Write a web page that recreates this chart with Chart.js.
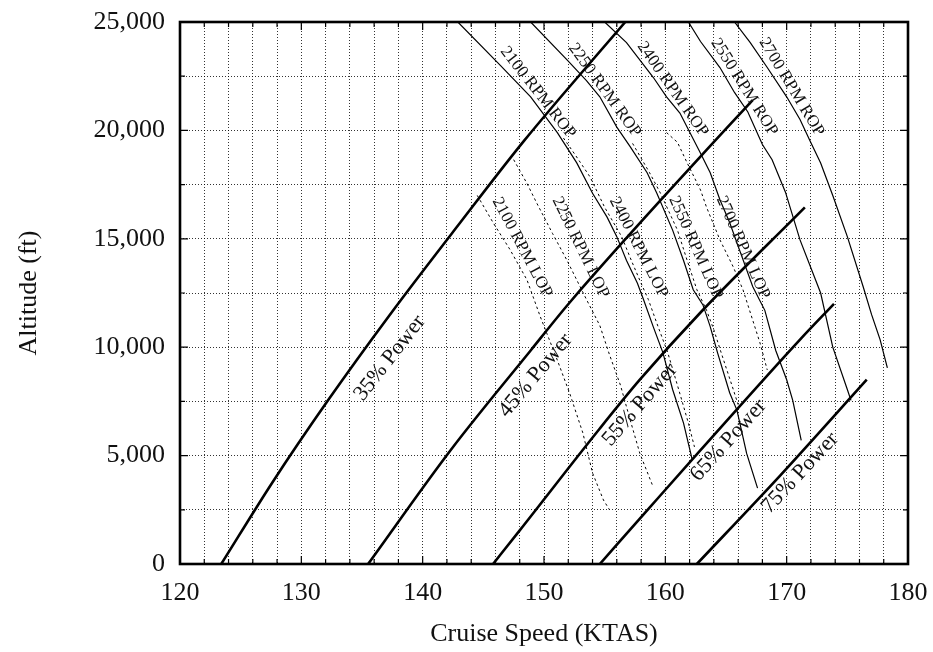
<!DOCTYPE html>
<html lang="en">
<head>
    <meta charset="UTF-8">
    <title>Cruise Speed vs Altitude</title>
    <script src="https://cdn.jsdelivr.net/npm/chart.js"></script>
    <style>
        html, body { margin: 0; padding: 0; background: #fff; }
        .chart-box { position: relative; width: 933px; height: 652px; }
    </style>
</head>
<body>
    <div class="chart-box">
        <canvas id="cruiseChart"></canvas>
    </div>

    <script>
        // percent power lines, [KTAS, altitude ft]
        const power35 = [[123.4, 0], [127.6, 3750], [132.2, 7550], [137.3, 11500], [143.1, 15750], [148.4, 19550], [156.7, 25000]];
        const power45 = [[135.5, 0], [142.3, 5250], [148.9, 9850], [152.1, 12050], [163.4, 19100], [167.2, 21400]];
        const power55 = [[145.8, 0], [148.0, 1550], [154.6, 6250], [157.9, 8500], [162.9, 11600], [171.5, 16450]];
        const power65 = [[154.6, 0], [158.7, 2600], [162.9, 5250], [171.1, 10350], [173.9, 12000]];
        const power75 = [[162.6, 0], [169.5, 4100], [176.6, 8500]];

        // rich of peak (solid)
        const rop2100 = [[142.9, 25000], [146.4, 23000], [148.9, 21550], [149.9, 20800], [151.1, 19900], [152.7, 18500],
            [154.0, 17100], [155.2, 16000], [156.0, 15100], [156.8, 14000], [157.7, 12950], [158.2, 12200],
            [159.0, 10950], [159.8, 9750], [160.6, 8050], [161.5, 6500], [162.2, 4850]];
        const rop2250 = [[148.9, 25000], [151.9, 23250], [153.5, 22300], [154.6, 21550], [156.0, 20150], [157.1, 19250],
            [158.5, 18050], [159.3, 17100], [160.6, 15400], [161.5, 14000], [162.3, 12650], [163.1, 11950],
            [163.7, 10950], [164.3, 9750], [165.3, 7900], [165.9, 7100], [166.7, 5100], [167.6, 3500]];
        const rop2400 = [[155.0, 25000], [156.8, 24050], [159.0, 22450], [160.1, 21550], [161.2, 20800], [162.9, 18950],
            [163.7, 18050], [164.5, 16800], [165.3, 15750], [166.2, 14350], [167.2, 12800], [168.2, 11700],
            [169.1, 9850], [170.0, 8500], [170.5, 7550], [171.2, 5700]];
        const rop2550 = [[161.9, 25000], [162.9, 24100], [164.5, 22900], [165.7, 21750], [166.8, 20850], [168.0, 19350],
            [168.8, 18650], [169.9, 17150], [171.1, 14950], [172.8, 12500], [173.8, 10000], [175.0, 8050], [175.3, 7550]];
        const rop2700 = [[165.7, 25000], [167.0, 24050], [168.4, 22900], [170.0, 21550], [171.1, 20500], [171.9, 19550],
            [172.8, 18500], [173.8, 17000], [175.0, 15100], [176.3, 12800], [177.0, 11500], [177.7, 10350], [178.3, 9050]];

        // lean of peak (dashed)
        const lop2100 = [[144.5, 17000], [145.8, 15750], [147.2, 14500], [148.6, 13100], [149.7, 11400], [151.1, 9400],
            [152.1, 7900], [153.2, 6050], [154.0, 4200], [154.9, 2950], [155.4, 2500]];
        const lop2250 = [[147.5, 18650], [148.6, 17550], [149.4, 16650], [150.7, 15250], [151.9, 14000], [152.7, 13100],
            [153.5, 12200], [154.6, 11000], [155.4, 9650], [156.3, 8250], [157.1, 6650], [157.9, 5100], [159.0, 3550]];
        const lop2400 = [[151.6, 19650], [152.6, 18850], [153.8, 17850], [155.0, 16450], [156.4, 15100], [157.2, 14000],
            [158.0, 12950], [158.6, 12200], [159.4, 10950], [160.2, 9750], [161.1, 8050], [161.9, 6500], [162.4, 5400]];
        const lop2550 = [[157.3, 19400], [158.7, 18050], [159.6, 17100], [161.0, 15400], [161.8, 14000], [162.6, 12650],
            [163.4, 11700], [164.0, 10800], [164.6, 9750], [165.6, 8050], [166.0, 7350]];
        const lop2700 = [[160.1, 19900], [161.0, 19450], [161.8, 18500], [162.9, 17250], [163.4, 16450], [164.5, 14950],
            [165.6, 13700], [166.4, 12650], [167.2, 11250], [167.8, 10200], [168.4, 8950]];

        // in-plot labels: text, speed, altitude, angle (deg)
        const powerLabels = [
            ['35% Power', 137.3, 9500, -52],
            ['45% Power', 149.3, 8700, -50],
            ['55% Power', 157.9, 7350, -49],
            ['65% Power', 165.2, 5700, -48],
            ['75% Power', 171.1, 4200, -47]
        ];
        const rpmLabels = [
            ['2100 RPM ROP', 149.5, 21750, 52],
            ['2250 RPM ROP', 155.0, 21850, 54],
            ['2400 RPM ROP', 160.6, 21900, 55],
            ['2550 RPM ROP', 166.5, 22000, 58],
            ['2700 RPM ROP', 170.4, 22000, 59],
            ['2100 RPM LOP', 148.2, 14600, 62],
            ['2250 RPM LOP', 153.0, 14600, 64],
            ['2400 RPM LOP', 157.8, 14600, 63],
            ['2550 RPM LOP', 162.5, 14600, 66],
            ['2700 RPM LOP', 166.4, 14600, 66]
        ];

        const serif = '"Liberation Serif", "Times New Roman", serif';
        const toPts = arr => arr.map(([x, y]) => ({ x: x, y: y }));

        function linha(pts, width, dash, smooth) {
            return {
                data: toPts(pts),
                showLine: true,
                borderColor: '#000',
                borderWidth: width,
                borderDash: dash || [],
                pointRadius: 0,
                tension: 0,
                cubicInterpolationMode: smooth ? 'monotone' : 'default',
                fill: false
            };
        }

        // labels, inward ticks and the box frame
        const decorPlugin = {
            id: 'decor',
            afterDatasetsDraw(chart) {
                const { ctx, chartArea: a, scales: { x, y } } = chart;
                ctx.save();
                ctx.fillStyle = '#111';
                ctx.textAlign = 'center';
                ctx.textBaseline = 'middle';
                const put = (list, size) => list.forEach(([txt, sx, sy, ang]) => {
                    ctx.save();
                    ctx.translate(x.getPixelForValue(sx), y.getPixelForValue(sy));
                    ctx.rotate(ang * Math.PI / 180);
                    ctx.font = size + 'px ' + serif;
                    ctx.fillText(txt, 0, 0);
                    ctx.restore();
                });
                put(powerLabels, 22);
                put(rpmLabels, 17);

                ctx.strokeStyle = '#000';
                ctx.lineWidth = 1.2;
                ctx.beginPath();
                x.ticks.forEach(t => {
                    const px = x.getPixelForValue(t.value);
                    const len = t.value % 10 === 0 ? 8 : 5;
                    ctx.moveTo(px, a.bottom); ctx.lineTo(px, a.bottom - len);
                    ctx.moveTo(px, a.top); ctx.lineTo(px, a.top + len);
                });
                y.ticks.forEach(t => {
                    const py = y.getPixelForValue(t.value);
                    const len = t.value % 5000 === 0 ? 8 : 5;
                    ctx.moveTo(a.left, py); ctx.lineTo(a.left + len, py);
                    ctx.moveTo(a.right, py); ctx.lineTo(a.right - len, py);
                });
                ctx.stroke();

                ctx.lineWidth = 2.6;
                ctx.strokeRect(a.left, a.top, a.right - a.left, a.bottom - a.top);
                ctx.restore();
            }
        };

        const ctx = document.getElementById('cruiseChart').getContext('2d');
        new Chart(ctx, {
            type: 'scatter',
            data: {
                datasets: [
                    linha(power35, 2.6, null, true), linha(power45, 2.6, null, true), linha(power55, 2.6, null, true),
                    linha(power65, 2.6, null, true), linha(power75, 2.6, null, true),
                    linha(rop2100, 1.2), linha(rop2250, 1.2), linha(rop2400, 1.2), linha(rop2550, 1.2), linha(rop2700, 1.2),
                    linha(lop2100, 1, [2.5, 3]), linha(lop2250, 1, [2.5, 3]), linha(lop2400, 1, [2.5, 3]),
                    linha(lop2550, 1, [2.5, 3]), linha(lop2700, 1, [2.5, 3])
                ]
            },
            options: {
                responsive: true,
                maintainAspectRatio: false,
                animation: false,
                layout: { padding: { left: 0, right: 25, top: 22, bottom: 0 } },
                plugins: {
                    legend: { display: false },
                    tooltip: { enabled: false }
                },
                scales: {
                    x: {
                        type: 'linear',
                        min: 120,
                        max: 180,
                        afterFit: s => { s.height = 88; s.paddingLeft = 0; s.paddingRight = 0; },
                        ticks: {
                            stepSize: 2,
                            autoSkip: false,
                            maxRotation: 0,
                            padding: 14,
                            color: '#111',
                            font: { family: serif, size: 26 },
                            callback: v => (v % 10 === 0 ? v : '')
                        },
                        grid: { color: 'rgba(0,0,0,0.8)', lineWidth: 1, drawTicks: false },
                        border: { display: false, dash: [1, 2] },
                        title: {
                            display: true,
                            text: 'Cruise Speed (KTAS)',
                            color: '#111',
                            font: { family: serif, size: 26 },
                            padding: { top: 0, bottom: 2 }
                        }
                    },
                    y: {
                        type: 'linear',
                        min: 0,
                        max: 25000,
                        afterFit: s => { s.width = 180; s.paddingTop = 0; s.paddingBottom = 0; },
                        ticks: {
                            stepSize: 2500,
                            autoSkip: false,
                            padding: 15,
                            color: '#111',
                            font: { family: serif, size: 26 },
                            callback: v => (v % 5000 === 0 ? v.toLocaleString('en-US') : '')
                        },
                        grid: { color: 'rgba(0,0,0,0.8)', lineWidth: 1, drawTicks: false },
                        border: { display: false, dash: [1, 2] },
                        title: {
                            display: true,
                            text: 'Altitude (ft)',
                            color: '#111',
                            font: { family: serif, size: 26 },
                            padding: { top: 14, bottom: 0 }
                        }
                    }
                }
            },
            plugins: [decorPlugin]
        });
    </script>
</body>
</html>
